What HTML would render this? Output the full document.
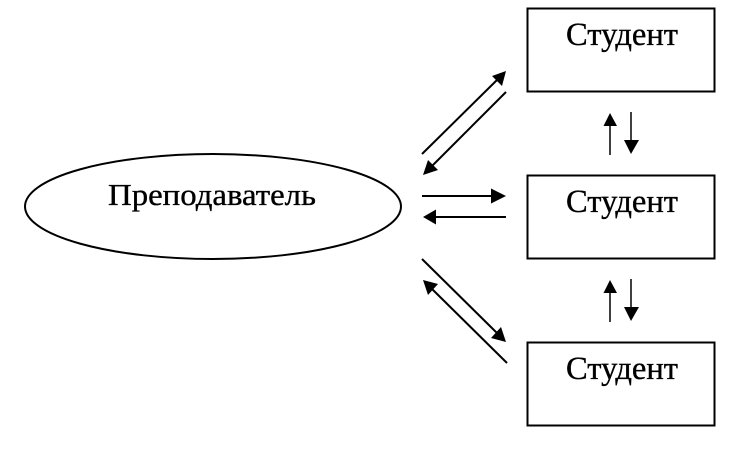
<!DOCTYPE html>
<html>
<head>
<meta charset="utf-8">
<style>
html,body{margin:0;padding:0;background:#fff;width:749px;height:453px;overflow:hidden}
svg{display:block}
text{font-family:"Liberation Serif","Noto Serif CJK SC",serif;fill:#000;stroke:#000;stroke-width:.35px}
.s{font-size:33px}
.p{font-size:31px}
</style>
</head>
<body>
<svg width="749" height="453" viewBox="0 0 749 453" xmlns="http://www.w3.org/2000/svg">
<rect width="749" height="453" fill="#fff"/>
<ellipse cx="213" cy="206.5" rx="188" ry="52.5" fill="none" stroke="#000" stroke-width="2"/>
<rect x="527.5" y="8.5" width="187" height="83" fill="none" stroke="#000" stroke-width="2"/>
<rect x="527.5" y="175.5" width="187" height="83" fill="none" stroke="#000" stroke-width="2"/>
<rect x="527.5" y="342.5" width="187" height="83" fill="none" stroke="#000" stroke-width="2"/>
<text class="p" x="108" y="205" textLength="208" lengthAdjust="spacingAndGlyphs">Преподаватель</text>
<text class="s" x="566" y="45" textLength="112" lengthAdjust="spacingAndGlyphs">Студент</text>
<text class="s" x="566" y="212" textLength="112" lengthAdjust="spacingAndGlyphs">Студент</text>
<text class="s" x="566" y="379" textLength="112" lengthAdjust="spacingAndGlyphs">Студент</text>
<g stroke="#000" stroke-width="2" fill="none">
<line x1="422" y1="154" x2="498" y2="79"/>
<line x1="506" y1="92" x2="431" y2="167"/>
<line x1="422" y1="196" x2="494" y2="196"/>
<line x1="506" y1="217" x2="435" y2="217"/>
<line x1="422" y1="259" x2="498" y2="334"/>
<line x1="507" y1="363" x2="431" y2="288"/>
</g>
<g stroke="#000" stroke-width="1.5" fill="none">
<line x1="610" y1="155" x2="610" y2="124"/>
<line x1="631" y1="112" x2="631" y2="143"/>
<line x1="610" y1="322" x2="610" y2="291"/>
<line x1="631" y1="279" x2="631" y2="310"/>
</g>
<g fill="#000">
<polygon points="506,71 502,86 492,76"/>
<polygon points="423,175 428,160 438,170"/>
<polygon points="506,196 491,188.5 491,203.5"/>
<polygon points="423,217 436,209.5 436,224.5"/>
<polygon points="506,342 491,338 501,327"/>
<polygon points="423,280 438,284 428,295"/>
<polygon points="610,113 603.5,126 617,126"/>
<polygon points="631,154 624,140 639,140"/>
<polygon points="610,280 603.5,293 617,293"/>
<polygon points="631,321 624,307 639,307"/>
</g>
</svg>
</body>
</html>
